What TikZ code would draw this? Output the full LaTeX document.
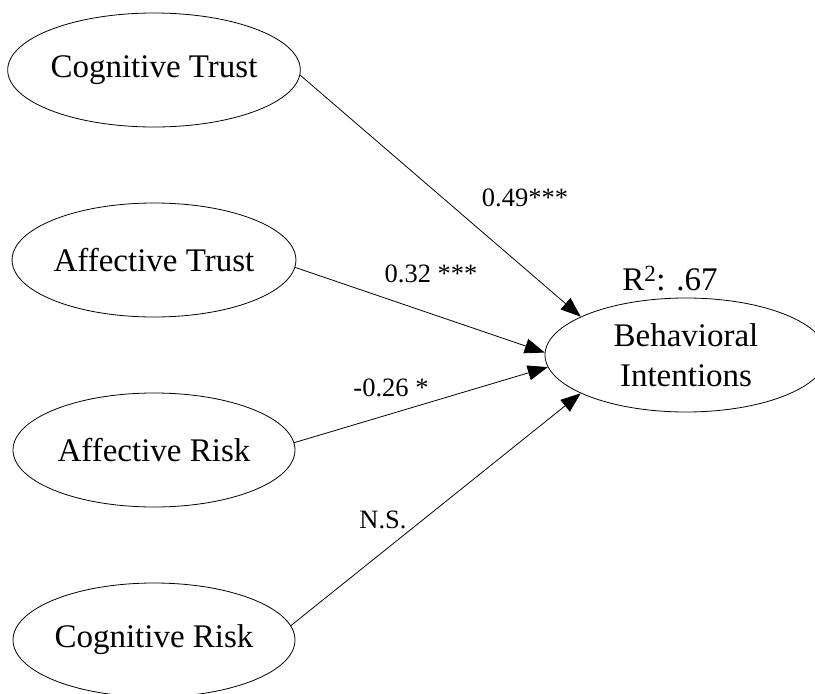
\documentclass[tikz,border=0pt]{standalone}
\usepackage{fontspec}
\setmainfont{Liberation Serif}
\usetikzlibrary{shapes.geometric,arrows.meta}

\begin{document}
\begin{tikzpicture}[x=1pt, y=-1pt,
        construct/.style={ellipse, draw, line width=0.8pt, minimum width=282pt,
            minimum height=114pt, inner sep=0pt, align=center,
            font=\fontsize{33}{40}\selectfont},
        effect/.style={-{Triangle[length=20pt,width=15pt]}, line width=0.8pt},
        coef/.style={inner sep=0pt, font=\fontsize{26.5}{30}\selectfont}]
    \useasboundingbox (0,0) rectangle (815,694);

    % constructs
    \node[construct] (ct) at (154,70)  {Cognitive Trust};
    \node[construct] (at) at (154,260) {Affective Trust};
    \node[construct] (ar) at (154,450) {Affective Risk};
    \node[construct] (cr) at (154,640) {Cognitive Risk};
    \node[construct] (bi) at (686,355) {Behavioral\\Intentions};
    \node[inner sep=0pt, font=\fontsize{33}{40}\selectfont] (rsq) at (670,279) {R\textsuperscript{2}: .67};

    % paths
    \draw[effect] (ct.-2) -- (bi.160);
    \draw[effect] (at.-3) -- (bi.179);
    \draw[effect] (ar.3)  -- (bi.185);
    \draw[effect] (cr.6)  -- (bi.200);

    \node[coef] (w1) at (525,198) {0.49***};
    \node[coef] (w2) at (431,274) {0.32 ***};
    \node[coef] (w3) at (391,388) {-0.26 *};
    \node[coef] (w4) at (383,520) {N.S.};
\end{tikzpicture}
\end{document}
